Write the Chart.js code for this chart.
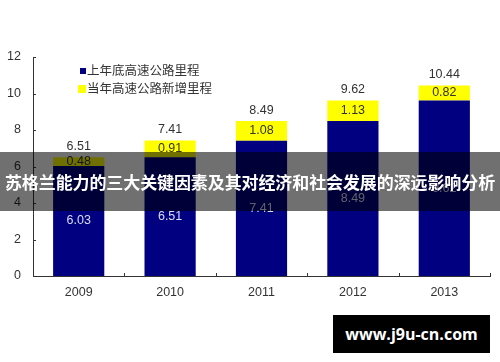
<!DOCTYPE html>
<html><head><meta charset="utf-8">
<script src="https://cdn.jsdelivr.net/npm/chart.js@4/dist/chart.umd.min.js"></script>
<style>
html,body{margin:0;padding:0;background:#fff;}
#wrap{position:relative;width:500px;height:362px;overflow:hidden;}
#band{position:absolute;left:0;top:152px;width:500px;height:59px;background:rgba(0,0,0,0.56);color:#fff;font:bold 17px "Noto Sans CJK SC",sans-serif;line-height:59px;text-align:center;white-space:nowrap;letter-spacing:-0.1px;}
#wm{position:absolute;left:333px;top:315px;width:157px;height:38px;background:#000;color:#fff;font:bold 16px "Open Sans","DejaVu Sans",sans-serif;line-height:38px;text-align:center;}
</style></head><body>
<div id="wrap"><canvas id="c" width="500" height="362"></canvas>
<div id="band">苏格兰能力的三大关键因素及其对经济和社会发展的深远影响分析</div>
<div id="wm">www.j9u-cn.com</div></div>
<script>
const categories = ["2009","2010","2011","2012","2013"];
const baseLabel = "上年底高速公路里程";
const addLabel = "当年高速公路新增里程";
const baseValues = [6.03, 6.51, 7.41, 8.49, 9.62];
const addValues = [0.48, 0.91, 1.08, 1.13, 0.82];
const totalValues = [6.51, 7.41, 8.49, 9.62, 10.44];
const yTicks = [0, 2, 4, 6, 8, 10, 12];

const FONT = "Liberation Sans, Arial, sans-serif";
const CJK = "Noto Sans CJK SC, sans-serif";

const labelsPlugin = {
  id: 'labels',
  afterDatasetsDraw(chart) {
    const ctx = chart.ctx;
    ctx.save();
    ctx.font = "12.5px " + FONT;
    ctx.textAlign = 'center';
    ctx.textBaseline = 'middle';
    const m0 = chart.getDatasetMeta(0), m1 = chart.getDatasetMeta(1);
    const y = chart.scales.y;
    categories.forEach((c, i) => {
      const b0 = m0.data[i], b1 = m1.data[i];
      ctx.fillStyle = '#dcdcf0';
      ctx.fillText(baseValues[i].toFixed(2), b0.x, (b0.y + b0.base) / 2);
      ctx.fillStyle = '#333';
      ctx.fillText(addValues[i].toFixed(2), b1.x, (b1.y + b1.base) / 2);
      ctx.fillStyle = '#333';
      ctx.fillText(totalValues[i].toFixed(2), b1.x, y.getPixelForValue(totalValues[i]) - 11);
    });
    // inside ticks
    const x = chart.scales.x;
    ctx.strokeStyle = '#333';
    ctx.lineWidth = 1;
    yTicks.forEach(v => {
      const py = Math.round(y.getPixelForValue(v)) + 0.5;
      ctx.beginPath(); ctx.moveTo(x.left, py); ctx.lineTo(x.left + 3, py); ctx.stroke();
    });
    for (let i = 1; i <= categories.length; i++) {
      const px = Math.round(x.left + (x.right - x.left) * i / categories.length) + 0.5;
      ctx.beginPath(); ctx.moveTo(px, y.bottom); ctx.lineTo(px, y.bottom - 3); ctx.stroke();
    }
    // legend
    const items = [[baseLabel, '#000080', 6], [addLabel, '#ffff00', 8]];
    ctx.textAlign = 'left';
    ctx.font = "12.5px " + CJK;
    items.forEach((it, k) => {
      const cy = 70 + k * 18;
      ctx.fillStyle = it[1];
      ctx.fillRect(87 - it[2] - 1, cy - it[2] / 2 + 1, it[2], it[2]);
      ctx.fillStyle = '#333';
      ctx.fillText(it[0], 87, cy);
    });
    ctx.restore();
  }
};

new Chart(document.getElementById('c'), {
  type: 'bar',
  data: {
    labels: categories,
    datasets: [
      { label: baseLabel, data: baseValues, backgroundColor: '#000080', categoryPercentage: 1, barPercentage: 0.56 },
      { label: addLabel, data: addValues, backgroundColor: '#ffff00', categoryPercentage: 1, barPercentage: 0.56 }
    ]
  },
  options: {
    responsive: false,
    animation: false,
    layout: { padding: { top: 57, right: 10, left: 0, bottom: 0 } },
    plugins: { legend: { display: false }, tooltip: { enabled: false } },
    scales: {
      x: {
        stacked: true,
        grid: { display: false, drawTicks: false },
        border: { color: '#333', width: 1 },
        ticks: { color: '#333', font: { family: FONT, size: 12.5 }, padding: 9 },
        afterFit(s) { s.height = 86; }
      },
      y: {
        stacked: true,
        min: 0, max: 12,
        afterBuildTicks(s) { s.ticks = yTicks.map(v => ({ value: v })); },
        grid: { display: false, drawTicks: false },
        border: { color: '#333', width: 1 },
        ticks: { color: '#333', font: { family: FONT, size: 12.5 }, padding: 12 },
        afterFit(s) { s.width = 33; }
      }
    }
  },
  plugins: [labelsPlugin]
});
</script></body></html>
